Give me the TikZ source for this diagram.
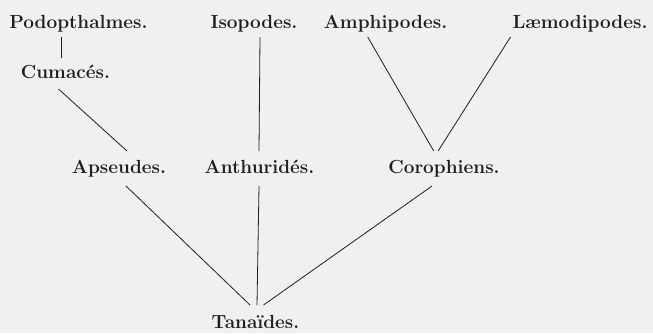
\documentclass[tikz,border=0pt]{standalone}
\usepackage{fontspec}
\usepackage{xcolor}
\definecolor{paper}{HTML}{F0F0F0}
\definecolor{ink}{HTML}{1E1E1E}

\begin{document}
\begin{tikzpicture}[
  x=1pt, y=-1pt,
  taxon/.style={anchor=base,inner sep=0pt,text=ink,text height=13pt,text depth=4pt,font=\bfseries\fontsize{19}{22}\selectfont},
  link/.style={draw=ink,line width=0.8pt}
]
  \fill[paper] (0,0) rectangle (653,333);
  \useasboundingbox (0,0) rectangle (653,333);
  \node[taxon,outer sep=5pt] (pod) at (78.5,28) {Podopthalmes.};
  \node[taxon,outer sep=7pt] (cum) at (65.5,78) {Cumacés.};
  \node[taxon,outer sep=5pt] (iso) at (254,28) {Isopodes.};
  \node[taxon,outer sep=5pt] (amph) at (385.5,28) {Amphipodes.};
  \node[taxon,outer sep=5pt] (laem) at (580,28) {Læmodipodes.};
  \node[taxon,outer sep=9pt] (aps) at (119,173) {Apseudes.};
  \node[taxon,outer sep=9pt] (anth) at (259.5,173) {Anthuridés.};
  \node[taxon,outer sep=9pt] (coro) at (444,173) {Corophiens.};
  \node[taxon,outer sep=10pt] (tan) at (255.5,328) {Tanaïdes.};
  \draw[link] ([xshift=-17.5pt]pod.south) -- ([xshift=-4.5pt]cum.north);
  \draw[link] ([xshift=-7pt]cum.south) -- ([xshift=8pt]aps.north);
  \draw[link] ([xshift=6pt]iso.south) -- ([xshift=-0.5pt]anth.north);
  \draw[link] ([xshift=-17.8pt]amph.south) -- ([xshift=-10.3pt]coro.north);
  \draw[link] ([xshift=-69.5pt]laem.south) -- ([xshift=-5.9pt]coro.north);
  \draw[link] ([xshift=7pt]aps.south) -- ([xshift=-5.5pt]tan.north);
  \draw[link] ([xshift=-0.5pt]anth.south) -- ([xshift=1.5pt]tan.north);
  \draw[link] ([xshift=-12pt]coro.south) -- ([xshift=8pt]tan.north);
\end{tikzpicture}
\end{document}
